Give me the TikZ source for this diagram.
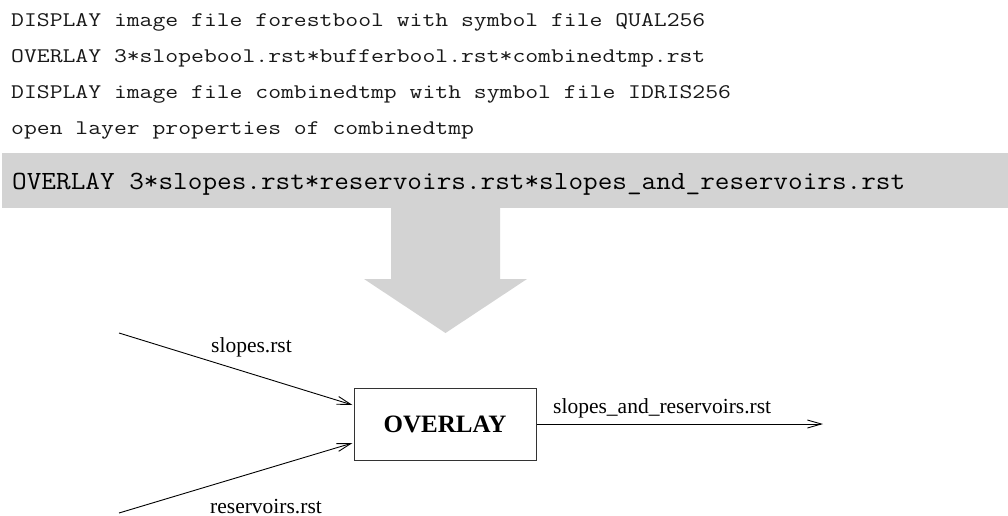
\documentclass[tikz,border=0pt]{standalone}
\usepackage{graphicx}
\usepackage{fontspec}
\setmainfont{Liberation Serif}
\usetikzlibrary{arrows.meta}
\definecolor{bandgray}{HTML}{D3D3D3}
% widened typewriter text, Courier-like proportions
\newcommand\widetype[2]{\scalebox{#1}[1]{#2}}
\begin{document}
\begin{tikzpicture}[x=1pt,y=-1pt,
  cmdline/.style={anchor=base west, inner sep=0pt, text=black!90,
    font=\fontsize{20.8}{25}\selectfont\ttfamily},
  mainline/.style={anchor=base west, inner sep=0pt,
    font=\fontsize{26.2}{31}\selectfont\ttfamily},
  opbox/.style={draw=black!80, line width=1pt, minimum width=182pt,
    minimum height=72pt, inner sep=0pt,
    font=\fontsize{25}{30}\selectfont\bfseries},
  flow/.style={line width=0.9pt, -{Straight Barb[length=14pt,width=8pt]}},
  flowlabel/.style={anchor=base west, inner sep=0pt,
    font=\fontsize{21.5}{26}\selectfont}]
\useasboundingbox (0,0) rectangle (1008,516);

% command log
\node[cmdline] (c1) at (11,27) {\widetype{1.2}{DISPLAY image file forestbool with symbol file QUAL256}};
\node[cmdline] (c2) at (11,63) {\widetype{1.2}{OVERLAY 3*slopebool.rst*bufferbool.rst*combinedtmp.rst}};
\node[cmdline] (c3) at (11,99) {\widetype{1.2}{DISPLAY image file combinedtmp with symbol file IDRIS256}};
\node[cmdline] (c4) at (11,135) {\widetype{1.2}{open layer properties of combinedtmp}};

% highlighted command
\node[fill=bandgray, anchor=north west, inner sep=0pt,
      minimum width=1006pt, minimum height=55pt] (band) at (2,153) {};
\node[mainline] (cmain) at (12,189) {\widetype{1.085}{OVERLAY 3*slopes.rst*reservoirs.rst*slopes\_and\_reservoirs.rst}};

% big down arrow
\fill[bandgray] (391,208) -- (500,208) -- (500,279) -- (527,279)
  -- (445.5,333) -- (364,279) -- (391,279) -- cycle;

% operation box and its inputs / output
\node[opbox] (ov) at (445,424) {OVERLAY};
\coordinate (sin) at (119,333);
\coordinate (rin) at (119,513);
\coordinate (out) at (823,424);

\draw[flow] (sin) -- ([yshift=19pt,xshift=-1pt]ov.west);
\draw[flow] (rin) -- ([yshift=-19pt,xshift=-1pt]ov.west);
\draw[flow] (ov.east) -- (out);

\node[flowlabel] (ls) at (211,352) {slopes.rst};
\node[flowlabel] (lr) at (210,513) {reservoirs.rst};
\node[flowlabel] (lo) at (553,413) {slopes\_and\_reservoirs.rst};
\end{tikzpicture}
\end{document}
